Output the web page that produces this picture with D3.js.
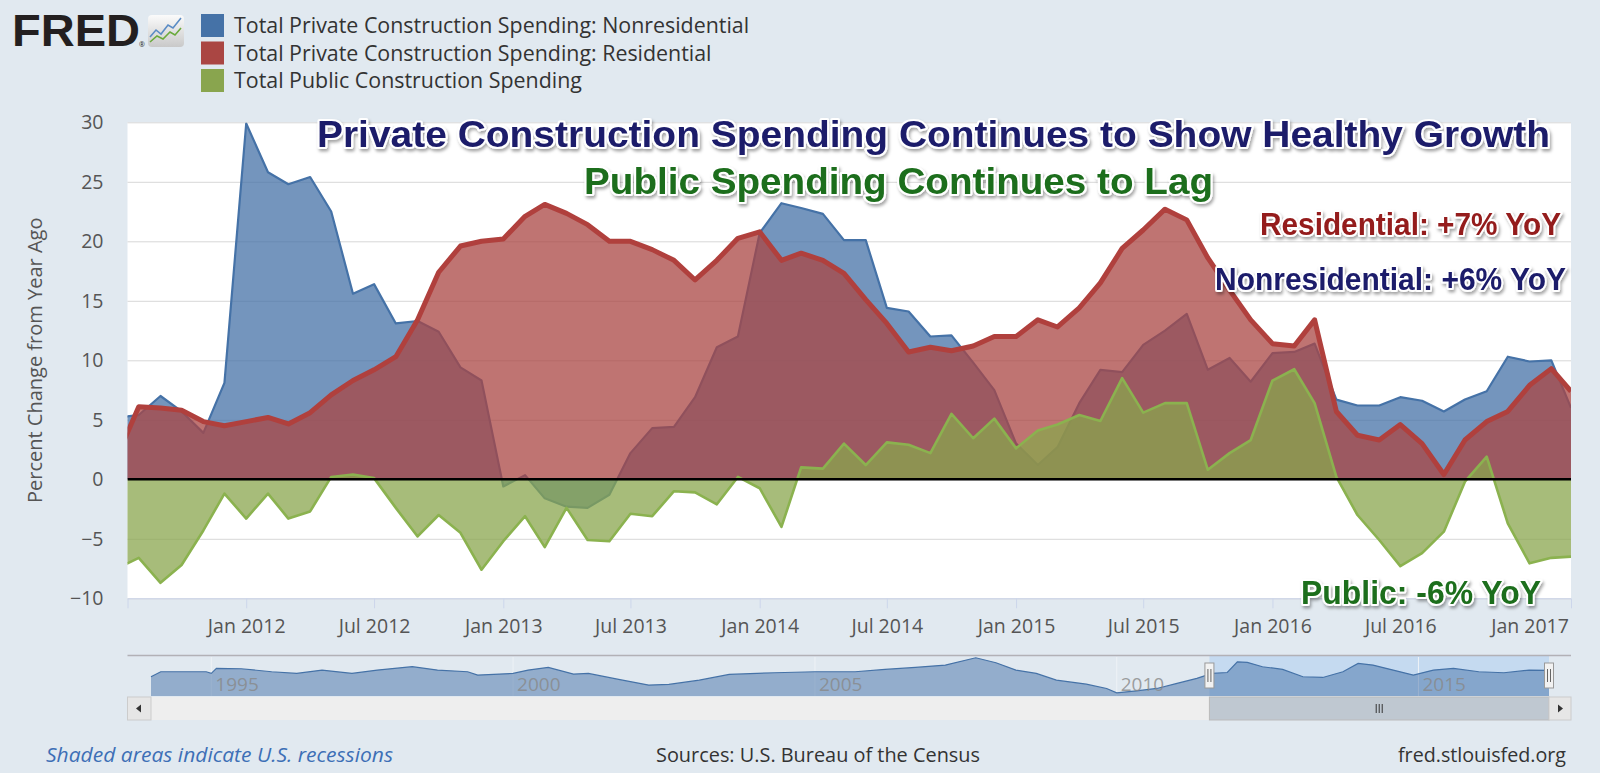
<!DOCTYPE html>
<html>
<head>
<meta charset="utf-8">
<script src="https://cdn.jsdelivr.net/npm/d3@7"></script>
<style>
  html, body { margin: 0; padding: 0; background: #e1e9f0; }
  svg { display: block; font-family: "Open Sans", sans-serif; }
</style>
</head>
<body>
<svg id="chart" width="1600" height="773"></svg>
<script>
// monthly percent change from year ago, first point Jul 2011
var firstMonth = "2011-07";

var nonresidential = [
  5.2, 5.4, 7.0, 5.7, 3.9, 8.1,
  29.9, 25.8, 24.8, 25.4, 22.5, 15.6, 16.4, 13.1, 13.3, 12.4, 9.4, 8.3,
  -0.6, 0.35, -1.6, -2.3, -2.4, -1.3, 2.2, 4.3, 4.4, 6.9, 11.1, 12.0,
  20.7, 23.2, 22.8, 22.3, 20.1, 20.1, 14.4, 14.1, 12.0, 12.1, 9.8, 7.5,
  3.0, 1.2, 2.7, 6.4, 9.2, 9.0, 11.3, 12.5, 13.9, 9.2, 10.2, 8.2,
  10.6, 10.7, 11.4, 6.7, 6.2, 6.2, 6.9, 6.6, 5.7, 6.7, 7.4, 10.3,
  9.9, 10.0, 6.0
];
var residential = [
  1.9, 6.1, 6.0, 5.8, 4.85, 4.5,
  4.85, 5.2, 4.65, 5.6, 7.1, 8.3, 9.2, 10.3, 13.4, 17.4, 19.6, 20.0,
  20.2, 22.1, 23.1, 22.35, 21.4, 20.0, 20.0, 19.3, 18.4, 16.75, 18.4, 20.25,
  20.8, 18.4, 19.0, 18.4, 17.3, 15.1, 13.1, 10.7, 11.1, 10.8, 11.2, 12.0,
  12.0, 13.4, 12.8, 14.4, 16.5, 19.4, 20.95, 22.7, 21.8, 18.6, 15.9, 13.4,
  11.4, 11.2, 13.4, 5.7, 3.7, 3.3, 4.6, 3.0, 0.4, 3.3, 4.85, 5.7,
  7.9, 9.3, 7.4
];
var publicSpending = [
  -7.5, -6.6, -8.7, -7.2, -4.3, -1.2,
  -3.3, -1.2, -3.3, -2.7, 0.2, 0.4, 0.1, -2.4, -4.8, -3.0, -4.5, -7.6,
  -5.2, -3.1, -5.7, -2.4, -5.1, -5.2, -2.9, -3.1, -1.0, -1.1, -2.1, 0.2,
  -0.75, -4.0, 1.0, 0.9, 3.0, 1.2, 3.1, 2.9, 2.2, 5.5, 3.45, 5.1,
  2.6, 4.1, 4.6, 5.4, 4.9, 8.5, 5.6, 6.4, 6.4, 0.8, 2.2, 3.3,
  8.3, 9.25, 6.4, 0.2, -3.0, -5.1, -7.3, -6.2, -4.4, -0.2, 1.9, -3.7,
  -7.06, -6.6, -6.5
];

var seriesNames = [
  "Total Private Construction Spending: Nonresidential",
  "Total Private Construction Spending: Residential",
  "Total Public Construction Spending"
];
var seriesColors = ["#4572A7", "#AA4643", "#89A54E"];

var xTicks = ["2012-01", "2012-07", "2013-01", "2013-07", "2014-01", "2014-07",
  "2015-01", "2015-07", "2016-01", "2016-07", "2017-01"];
var yTicks = [-10, -5, 0, 5, 10, 15, 20, 25, 30];

// navigator (long history of the first series)
var navDates = ["1994-01", "1994-03", "1994-12", "1995-01", "1995-02", "1995-07",
  "1996-01", "1996-06", "1996-11", "1997-05", "1997-10", "1998-05", "1998-10",
  "1999-04", "1999-06", "2000-01", "2000-04", "2000-08", "2001-01", "2001-04",
  "2001-10", "2002-04", "2002-08", "2003-02", "2003-08", "2004-05", "2005-01",
  "2005-09", "2006-03", "2006-09", "2007-03", "2007-09", "2008-01", "2008-05",
  "2008-09", "2009-01", "2009-07", "2009-11", "2010-01", "2010-05", "2010-09",
  "2011-01", "2011-05", "2011-08", "2011-11", "2012-01", "2012-03", "2012-06",
  "2012-10", "2013-02", "2013-06", "2013-10", "2014-01", "2014-04", "2014-08",
  "2014-12", "2015-04", "2015-08", "2016-01", "2016-06", "2016-11", "2017-03"];
var navValues = [0, 9.4, 9.4, 6.3, 15.6, 15,
  9.4, 6.3, 12.5, 6.3, 12.5, 18.8, 12.5,
  9.4, 3.1, 6.3, 12.5, 17.5, 5, 6.3,
  -5, -15.6, -14.4, -6.3, 4.4, 7.5, 9.4,
  9.4, 13.8, 17.5, 21.9, 35.6, 26.3, 12.5,
  6.3, -6.3, -13.8, -21.9, -30, -26.3, -21.9,
  -12.5, -3.1, 6.3, 8, 28, 27, 18.8,
  13.8, 0, -1.3, 9.4, 25, 21.9, 12.5,
  3.1, 12.5, 15.6, 9.4, 7.5, 12.5, 12];
var navYears = ["1995", "2000", "2005", "2010", "2015"];

var parseMonth = d3.timeParse("%Y-%m");
var months = d3.timeMonth.range(parseMonth(firstMonth),
  d3.timeMonth.offset(parseMonth(firstMonth), nonresidential.length));

var svg = d3.select("#chart");

var plot = {left: 127.5, right: 1571, top: 122.3, bottom: 598.3};

var x = d3.scaleTime()
  .domain([new Date(2011, 6, 16), new Date(2017, 2, 1)])
  .range([plot.left, plot.right]);
var y = d3.scaleLinear()
  .domain([-10, 30])
  .range([plot.bottom, plot.top]);

var defs = svg.append("defs");
defs.append("clipPath").attr("id", "plotClip")
  .append("rect")
  .attr("x", plot.left).attr("y", plot.top)
  .attr("width", plot.right - plot.left).attr("height", plot.bottom - plot.top);

var shadow = defs.append("filter").attr("id", "shadow")
  .attr("x", "-5%").attr("y", "-30%").attr("width", "110%").attr("height", "170%");
shadow.append("feDropShadow")
  .attr("dx", 1.5).attr("dy", 2.5).attr("stdDeviation", 1.6)
  .attr("flood-color", "#000").attr("flood-opacity", 0.35);

var iconGrad = defs.append("linearGradient").attr("id", "iconGrad")
  .attr("x1", 0).attr("y1", 0).attr("x2", 0).attr("y2", 1);
iconGrad.append("stop").attr("offset", "0%").attr("stop-color", "#fbfbfb");
iconGrad.append("stop").attr("offset", "100%").attr("stop-color", "#c9c9c9");

// plot background
svg.append("rect")
  .attr("x", plot.left).attr("y", plot.top)
  .attr("width", plot.right - plot.left).attr("height", plot.bottom - plot.top)
  .attr("fill", "#fff");

/* gridlines */
svg.append("g")
  .selectAll("line")
  .data(yTicks)
  .join("line")
  .attr("x1", plot.left).attr("x2", plot.right)
  .attr("y1", d => y(d) + 0.5).attr("y2", d => y(d) + 0.5)
  .attr("stroke", "#d8d8d8")
  .attr("stroke-width", 1);

/* series */
var series = [nonresidential, residential, publicSpending].map(function(vals, i) {
  return {name: seriesNames[i], color: seriesColors[i],
    points: vals.map((v, j) => ({date: months[j], v: v}))};
});

var area = d3.area()
  .x(d => x(d.date))
  .y0(y(0))
  .y1(d => y(d.v));
var line = d3.line()
  .x(d => x(d.date))
  .y(d => y(d.v));

var lineStyle = [
  {stroke: "#4572A7", width: 2.2},
  {stroke: "#b0403d", width: 5},
  {stroke: "#8bb24f", width: 2.6}
];

var plotG = svg.append("g").attr("clip-path", "url(#plotClip)");
series.forEach(function(s, i) {
  plotG.append("path")
    .datum(s.points)
    .attr("d", area)
    .attr("fill", s.color)
    .attr("fill-opacity", 0.75);
  plotG.append("path")
    .datum(s.points)
    .attr("d", line)
    .attr("fill", "none")
    .attr("stroke", lineStyle[i].stroke)
    .attr("stroke-width", lineStyle[i].width)
    .attr("stroke-linejoin", "round");
});

// zero line
plotG.append("line")
  .attr("x1", plot.left).attr("x2", plot.right)
  .attr("y1", y(0)).attr("y2", y(0))
  .attr("stroke", "#000")
  .attr("stroke-width", 2.6);

/* xAxis */
var xAxis = d3.axisBottom(x)
  .tickValues(xTicks.map(parseMonth))
  .tickFormat(d3.timeFormat("%b %Y"))
  .tickSize(10)
  .tickPadding(11);
var xg = svg.append("g")
  .attr("transform", `translate(0, ${plot.bottom})`)
  .call(xAxis);
xg.select(".domain").attr("stroke", "#ccd6eb");
xg.selectAll(".tick line").attr("stroke", "#ccd6eb");
xg.selectAll("text")
  .attr("fill", "#555")
  .style("font-size", "19.5px")
  .style("font-family", "'Open Sans', sans-serif");

/* yAxis */
var yAxis = d3.axisLeft(y)
  .tickValues(yTicks)
  .tickSize(0)
  .tickPadding(24);
var yg = svg.append("g")
  .attr("transform", `translate(${plot.left}, 0)`)
  .call(yAxis);
yg.select(".domain").remove();
yg.selectAll("text")
  .attr("fill", "#555")
  .style("font-size", "19.5px")
  .style("font-family", "'Open Sans', sans-serif");

svg.append("text")
  .attr("transform", `translate(42, ${(plot.top + plot.bottom) / 2}) rotate(-90)`)
  .attr("text-anchor", "middle")
  .attr("fill", "#555")
  .style("font-size", "20px")
  .text("Percent Change from Year Ago");

/* header: logo + legend */
svg.append("text")
  .attr("x", 12).attr("y", 46)
  .attr("textLength", 128).attr("lengthAdjust", "spacingAndGlyphs")
  .style("font-family", "'Liberation Sans', Arial, sans-serif")
  .style("font-weight", 900)
  .style("font-size", "45px")
  .attr("fill", "#231f20")
  .text("FRED");
svg.append("text")
  .attr("x", 139).attr("y", 47)
  .style("font-size", "7px")
  .attr("fill", "#231f20")
  .text("®");
svg.append("rect")
  .attr("x", 148).attr("y", 15).attr("width", 36).attr("height", 32).attr("rx", 4)
  .attr("fill", "url(#iconGrad)");
svg.append("polyline")
  .attr("points", "150,37 156,30 161,34 168,25 173,28 181,18")
  .attr("fill", "none").attr("stroke", "#5b8cc5").attr("stroke-width", 1.6);
svg.append("polyline")
  .attr("points", "150,42 157,36 163,39 170,32 175,35 181,28")
  .attr("fill", "none").attr("stroke", "#6aaa3c").attr("stroke-width", 1.6);

var legend = svg.append("g")
  .selectAll("g")
  .data(series)
  .join("g")
  .attr("transform", (d, i) => `translate(201, ${14 + i * 27.5})`);
legend.append("rect")
  .attr("width", 23).attr("height", 23)
  .attr("fill", d => d.color);
legend.append("text")
  .attr("x", 33).attr("y", 19)
  .attr("fill", "#333")
  .style("font-size", "21.4px")
  .text(d => d.name);

/* annotations */
var notes = [
  {text: "Private Construction Spending Continues to Show Healthy Growth", x: 317, y: 147, len: 1233, size: 36, color: "#1b1b6b"},
  {text: "Public Spending Continues to Lag", x: 584, y: 194, len: 629, size: 36, color: "#1d6e1d"},
  {text: "Residential: +7% YoY", x: 1260, y: 235, len: 301, size: 32, color: "#941b1b"},
  {text: "Nonresidential: +6% YoY", x: 1215, y: 290, len: 351, size: 32, color: "#1b1b6b"},
  {text: "Public: -6% YoY", x: 1301, y: 604, len: 240, size: 33, color: "#1d6e1d"}
];
svg.append("g")
  .attr("filter", "url(#shadow)")
  .selectAll("text")
  .data(notes)
  .join("text")
  .attr("x", d => d.x).attr("y", d => d.y)
  .attr("textLength", d => d.len).attr("lengthAdjust", "spacingAndGlyphs")
  .style("font-family", "'Liberation Sans', Arial, sans-serif")
  .style("font-weight", "bold")
  .style("font-size", d => d.size + "px")
  .attr("fill", d => d.color)
  .attr("stroke", "#fff")
  .attr("stroke-width", 4)
  .attr("stroke-linejoin", "round")
  .attr("paint-order", "stroke")
  .text(d => d.text);

/* navigator */
var nav = {left: 151, right: 1549, top: 657, bottom: 696};
var nx = d3.scaleTime()
  .domain([parseMonth("1994-01"), parseMonth("2017-03")])
  .range([nav.left, nav.right]);
var ny = d3.scaleLinear()
  .domain([-36, 37])
  .range([nav.bottom, nav.top]);
var navPoints = navDates.map((d, i) => ({date: parseMonth(d), v: navValues[i]}));

var selLeft = nx(new Date(2011, 6, 16)), selRight = nav.right;

svg.append("rect")
  .attr("x", selLeft).attr("y", nav.top - 1)
  .attr("width", selRight - selLeft).attr("height", nav.bottom - nav.top + 1)
  .attr("fill", "#c5daf0");

svg.append("g")
  .selectAll("line")
  .data(navYears)
  .join("line")
  .attr("x1", d => nx(d3.timeParse("%Y")(d))).attr("x2", d => nx(d3.timeParse("%Y")(d)))
  .attr("y1", nav.top).attr("y2", nav.bottom)
  .attr("stroke", "#eef2f6").attr("stroke-width", 1);

svg.append("path")
  .datum(navPoints)
  .attr("d", d3.area().x(d => nx(d.date)).y0(nav.bottom).y1(d => ny(d.v)))
  .attr("fill", "#4572A7").attr("fill-opacity", 0.5);
svg.append("path")
  .datum(navPoints)
  .attr("d", d3.line().x(d => nx(d.date)).y(d => ny(d.v)))
  .attr("fill", "none").attr("stroke", "#4572A7").attr("stroke-width", 1.2);

svg.append("g")
  .selectAll("text")
  .data(navYears)
  .join("text")
  .attr("x", d => nx(d3.timeParse("%Y")(d)) + 4)
  .attr("y", 691)
  .attr("fill", "#888").attr("fill-opacity", 0.8)
  .style("font-size", "19px")
  .text(d => d);

svg.append("line")
  .attr("x1", 127.5).attr("x2", 1571)
  .attr("y1", 655.5).attr("y2", 655.5)
  .attr("stroke", "#b2b1b6").attr("stroke-width", 1.5);

// handles
[selLeft, selRight].forEach(function(hx) {
  svg.append("rect")
    .attr("x", hx - 4.5).attr("y", 663).attr("width", 9).attr("height", 25)
    .attr("fill", "#f2f2f2").attr("stroke", "#999").attr("stroke-width", 1);
  [-1.5, 1.5].forEach(function(o) {
    svg.append("line")
      .attr("x1", hx + o).attr("x2", hx + o).attr("y1", 669).attr("y2", 682)
      .attr("stroke", "#666").attr("stroke-width", 1);
  });
});

// scrollbar
svg.append("rect")
  .attr("x", nav.left).attr("y", 697).attr("width", nav.right - nav.left).attr("height", 23)
  .attr("fill", "#eeeeee");
svg.append("rect")
  .attr("x", selLeft).attr("y", 697).attr("width", selRight - selLeft).attr("height", 23)
  .attr("fill", "#bfc8d1").attr("stroke", "#bbb");
[-3, 0, 3].forEach(function(o) {
  svg.append("line")
    .attr("x1", (selLeft + selRight) / 2 + o).attr("x2", (selLeft + selRight) / 2 + o)
    .attr("y1", 704).attr("y2", 713)
    .attr("stroke", "#333").attr("stroke-width", 1);
});
svg.append("rect")
  .attr("x", 127.5).attr("y", 697).attr("width", 23.5).attr("height", 23)
  .attr("fill", "#e6e6e6").attr("stroke", "#ccc");
svg.append("rect")
  .attr("x", 1549).attr("y", 697).attr("width", 22).attr("height", 23)
  .attr("fill", "#e6e6e6").attr("stroke", "#ccc");
svg.append("path").attr("d", "M141,704.5 L136,708.5 L141,712.5 Z").attr("fill", "#333");
svg.append("path").attr("d", "M1558,704.5 L1563,708.5 L1558,712.5 Z").attr("fill", "#333");

/* footer */
svg.append("text")
  .attr("x", 46).attr("y", 762)
  .attr("textLength", 347).attr("lengthAdjust", "spacingAndGlyphs")
  .style("font-size", "19.5px").style("font-style", "italic")
  .attr("fill", "#3d6fb6")
  .text("Shaded areas indicate U.S. recessions");
svg.append("text")
  .attr("x", 656).attr("y", 762)
  .attr("textLength", 324).attr("lengthAdjust", "spacingAndGlyphs")
  .style("font-size", "19.5px")
  .attr("fill", "#333")
  .text("Sources: U.S. Bureau of the Census");
svg.append("text")
  .attr("x", 1566).attr("y", 762)
  .attr("text-anchor", "end")
  .attr("textLength", 168).attr("lengthAdjust", "spacingAndGlyphs")
  .style("font-size", "19.5px")
  .attr("fill", "#333")
  .text("fred.stlouisfed.org");
</script>
</body>
</html>
